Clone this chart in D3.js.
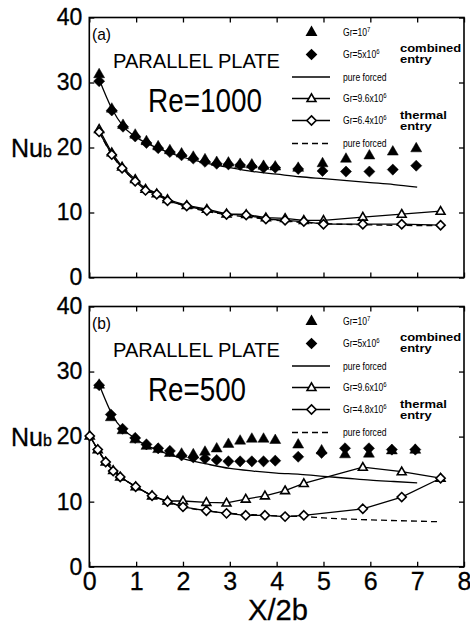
<!DOCTYPE html>
<html>
<head>
<meta charset="utf-8">
<script src="https://cdn.jsdelivr.net/npm/d3@7"></script>
<style>
  body { margin: 0; background: #fff; }
  svg text { font-family: "Liberation Sans", Arial, sans-serif; fill: #000; }
  .big { stroke: #000; stroke-width: 0.3px; }
</style>
</head>
<body>
<svg id="chart" width="470" height="628"></svg>
<script>
// panel (a) Re=1000, combined entry
const aX = [0.21,0.48,0.72,0.98,1.22,1.47,1.72,1.97,2.22,2.47,2.72,2.97,3.22,3.47,3.72,3.97,4.46,4.98,5.48,5.98,6.48,6.98];
const aGr1e7 = [31.3,26.0,23.5,22.0,21.0,20.2,19.6,19.1,18.6,18.2,17.8,17.7,17.5,17.4,17.2,17.1,16.9,17.6,18.3,18.8,19.4,19.9];
const aGr5e6 = [30.2,25.7,23.2,21.7,20.7,19.9,19.3,18.8,18.3,17.8,17.5,17.4,17.3,17.1,16.9,16.9,16.7,16.4,16.3,16.3,16.6,17.2];
const aForcedX = [0.21,0.48,0.72,1,1.5,2,2.5,3,3.5,4,4.5,5,5.5,6,6.5,7];
const aForced = [30.5,26.0,23.3,21.6,19.8,18.5,17.6,16.9,16.3,15.9,15.5,15.2,14.9,14.6,14.3,13.9];
// panel (a) thermal entry
const aTX = [0.21,0.48,0.70,0.98,1.20,1.44,1.67,2.08,2.51,2.93,3.35,3.77,4.18,4.58,5.0,5.84,6.67,7.50];
const aGr96 = [22.8,19.2,17.0,15.1,13.6,12.9,12.0,11.1,10.5,9.8,9.7,9.2,9.1,8.8,8.8,9.3,9.75,10.2];
const aGr64 = [22.4,18.9,16.8,14.8,13.4,12.8,11.8,11.0,10.3,9.7,9.6,9.0,8.8,8.6,8.2,8.2,8.2,8.05];
const aForcedTX = [0.21,0.48,0.7,1,1.5,2,2.5,3,3.5,4,4.5,5,6,7,7.5];
const aForcedT = [22.4,18.9,16.8,14.8,12.7,11.1,10.2,9.6,9.2,8.8,8.5,8.3,8.1,8.0,8.0];

// panel (b) Re=500, combined entry
const bX = [0.21,0.46,0.71,0.98,1.22,1.47,1.72,1.97,2.22,2.47,2.72,2.97,3.22,3.47,3.72,3.97,4.46,4.96,5.46,5.97,6.46,6.96];
const bGr1e7 = [28.0,23.0,21.0,19.6,18.6,18.1,17.5,17.4,17.3,17.7,18.2,18.9,19.4,19.7,19.7,19.5,18.8,17.9,17.3,17.4,17.9,18.0];
const bGr5e6 = [27.9,23.4,21.2,19.8,18.8,18.2,17.8,17.1,16.8,16.6,16.4,16.2,16.2,16.2,16.2,16.3,16.9,17.5,18.2,18.2,18.0,18.0];
const bForcedX = [0.21,0.5,1,1.5,2,2.5,3,3.5,4,4.5,5,5.5,6,6.5,7];
const bForced = [28.0,23.2,19.6,17.8,16.6,15.8,15.1,14.7,14.4,14.2,13.9,13.6,13.3,13.1,12.9];
// panel (b) thermal entry
const bTX = [0.01,0.18,0.35,0.51,0.66,0.99,1.34,1.67,2.0,2.5,2.93,3.34,3.75,4.18,4.58,5.84,6.67,7.5];
const bGr96 = [20.1,18.0,16.1,14.8,13.8,12.3,10.9,10.1,10.1,9.9,9.8,10.4,10.9,11.7,12.8,15.3,14.6,13.6];
const bGr48 = [20.1,18.0,16.1,14.7,13.8,12.3,10.9,10.0,9.2,8.6,8.2,7.9,7.9,7.7,7.9,8.9,10.7,13.6];
const bForcedTX = [0.01,0.18,0.35,0.51,0.66,1,1.34,1.67,2,2.5,3,3.5,4,4.6,5,6,7,7.5];
const bForcedT = [20.1,18.0,16.1,14.7,13.8,12.3,10.9,10.0,9.2,8.6,8.2,8.0,7.8,7.7,7.5,7.2,7.0,6.9];

const xTicks = [0,1,2,3,4,5,6,7,8];
const yTicks = [0,10,20,30,40];

const svg = d3.select("#chart");
const left = 89.3, right = 464;

const x = d3.scaleLinear().domain([0, 8]).range([left, right]);

const diamond = {
  draw(ctx, size) {
    const r = Math.sqrt(size / 2);
    ctx.moveTo(0, -r); ctx.lineTo(r, 0); ctx.lineTo(0, r); ctx.lineTo(-r, 0); ctx.closePath();
  }
};
const symFillTri = d3.symbol().type(d3.symbolTriangle).size(52);
const symFillDia = d3.symbol().type(diamond).size(62);
const symOpenTri = d3.symbol().type(d3.symbolTriangle).size(34);
const symOpenDia = d3.symbol().type(diamond).size(42);
const legTri = d3.symbol().type(d3.symbolTriangle).size(62);
const legDia = d3.symbol().type(diamond).size(68);

const zip = (xs, ys) => xs.map((v, i) => [v, ys[i]]);

function panel(cfg) {
  const y = d3.scaleLinear().domain([0, 40]).range([cfg.bottom, cfg.top]);
  const g = svg.append("g");
  const line = d3.line().x(d => x(d[0])).y(d => y(d[1]));
  const smooth = d3.line().x(d => x(d[0])).y(d => y(d[1])).curve(d3.curveMonotoneX);

  // axes: inward ticks on all sides
  const axL = g.append("g").attr("transform", `translate(${left},0)`)
    .call(d3.axisLeft(y).tickValues(yTicks).tickSizeInner(-5).tickSizeOuter(0).tickPadding(7));
  axL.selectAll("text").attr("class", "big").style("font-size", "23px");
  g.append("g").attr("transform", `translate(${right},0)`)
    .call(d3.axisRight(y).tickValues(yTicks).tickSizeInner(-5).tickSizeOuter(0).tickFormat(""));
  g.append("g").attr("transform", `translate(0,${cfg.top})`)
    .call(d3.axisTop(x).tickValues(xTicks).tickSizeInner(-5).tickSizeOuter(0).tickFormat(""));
  const axB = g.append("g").attr("transform", `translate(0,${cfg.bottom})`)
    .call(d3.axisBottom(x).tickValues(xTicks).tickSizeInner(-5).tickSizeOuter(0).tickPadding(6)
      .tickFormat(cfg.xLabels ? d3.format("d") : ""));
  axB.selectAll("text").attr("class", "big").style("font-size", "25px");
  g.selectAll(".domain").remove();
  g.selectAll(".tick line").attr("stroke", "#000").attr("stroke-width", 1.3);
  g.append("rect").attr("x", left).attr("y", cfg.top)
    .attr("width", right - left).attr("height", cfg.bottom - cfg.top)
    .attr("fill", "none").attr("stroke", "#000").attr("stroke-width", 1.6);

  // lines
  g.append("path").attr("d", smooth(zip(cfg.forcedX, cfg.forced)))
    .attr("fill", "none").attr("stroke", "#000").attr("stroke-width", 1.3);
  g.append("path").attr("d", smooth(zip(cfg.forcedTX, cfg.forcedT)))
    .attr("fill", "none").attr("stroke", "#000").attr("stroke-width", 1.3).attr("stroke-dasharray", "6,4");
  g.append("path").attr("d", line(zip(cfg.tX, cfg.gr96)))
    .attr("fill", "none").attr("stroke", "#000").attr("stroke-width", 1.3);
  g.append("path").attr("d", line(zip(cfg.tX, cfg.grT)))
    .attr("fill", "none").attr("stroke", "#000").attr("stroke-width", 1.3);

  // markers
  const mk = (data, sym, filled, dy) => g.append("g").selectAll("path").data(data).join("path")
    .attr("transform", d => `translate(${x(d[0])},${y(d[1]) + (dy || 0)})`)
    .attr("d", sym)
    .attr("fill", filled ? "#000" : "#fff")
    .attr("stroke", "#000").attr("stroke-width", filled ? 0.5 : 1.6);
  mk(zip(cfg.tX, cfg.gr96), symOpenTri, false, 0.5);
  mk(zip(cfg.tX, cfg.grT), symOpenDia, false);
  mk(zip(cfg.cX, cfg.gr1e7), symFillTri, true, 0.5);
  mk(zip(cfg.cX, cfg.gr5e6), symFillDia, true);

  // annotations
  const t = cfg.top;
  g.append("text").attr("x", 92).attr("y", t + 22).style("font-size", "17px")
    .attr("textLength", 19).attr("lengthAdjust", "spacingAndGlyphs").text(cfg.tag);
  g.append("text").attr("x", 113).attr("y", t + 50).style("font-size", "21px")
    .attr("textLength", 167).attr("lengthAdjust", "spacingAndGlyphs").text("PARALLEL PLATE");
  g.append("text").attr("x", 148).attr("y", t + 94).style("font-size", "34px")
    .attr("textLength", cfg.reW).attr("lengthAdjust", "spacingAndGlyphs").text(cfg.re);

  // legend
  const lx0 = 292, lx1 = 330, lxm = 311.5, tx = 343;
  const rows = [14.5, 37, 59.5, 81, 103, 126];
  const lg = g.append("g");
  lg.append("path").attr("transform", `translate(${lxm},${t + rows[0] + 0.5})`).attr("d", legTri()).attr("fill", "#000");
  lg.append("path").attr("transform", `translate(${lxm},${t + rows[1]})`).attr("d", legDia()).attr("fill", "#000");
  lg.append("line").attr("x1", lx0).attr("x2", lx1).attr("y1", t + rows[2]).attr("y2", t + rows[2]).attr("stroke", "#000").attr("stroke-width", 1.3);
  lg.append("line").attr("x1", lx0).attr("x2", lx1).attr("y1", t + rows[3]).attr("y2", t + rows[3]).attr("stroke", "#000").attr("stroke-width", 1.3);
  lg.append("path").attr("transform", `translate(${lxm},${t + rows[3] + 0.5})`).attr("d", symOpenTri()).attr("fill", "#fff").attr("stroke", "#000").attr("stroke-width", 1.6);
  lg.append("line").attr("x1", lx0).attr("x2", lx1).attr("y1", t + rows[4]).attr("y2", t + rows[4]).attr("stroke", "#000").attr("stroke-width", 1.3);
  lg.append("path").attr("transform", `translate(${lxm},${t + rows[4]})`).attr("d", symOpenDia()).attr("fill", "#fff").attr("stroke", "#000").attr("stroke-width", 1.6);
  lg.append("line").attr("x1", lx0).attr("x2", lx1).attr("y1", t + rows[5]).attr("y2", t + rows[5]).attr("stroke", "#000").attr("stroke-width", 1.3).attr("stroke-dasharray", "6,4");

  const labels = [
    ["Gr=10", "7"], ["Gr=5x10", "6"], ["pure forced", ""],
    ["Gr=9.6x10", "6"], [cfg.grTLabel, "6"], ["pure forced", ""]
  ];
  labels.forEach((l, i) => {
    const tt = lg.append("text").attr("x", tx).attr("y", t + rows[i] + 4).style("font-size", "10px");
    tt.append("tspan").text(l[0]);
    if (l[1]) tt.append("tspan").attr("dy", -4).style("font-size", "7px").text(l[1]);
    tt.attr("transform", `translate(${tx},0) scale(0.86,1) translate(${-tx},0)`);
  });
  [["combined", 34.5], ["entry", 46], ["thermal", 101.5], ["entry", 113]].forEach(d => {
    lg.append("text").attr("x", 400).attr("y", t + d[1]).style("font-size", "11px")
      .style("font-weight", "bold")
      .attr("transform", `translate(400,0) scale(1.18,1) translate(-400,0)`)
      .text(d[0]);
  });

  // y label Nu_b
  const nt = g.append("text").attr("class", "big").attr("x", 11).attr("y", y(20) + 9).style("font-size", "25px");
  nt.append("tspan").text("Nu");
  nt.append("tspan").style("font-size", "16px").text("b");
}

panel({
  top: 17.5, bottom: 277.5, xLabels: false, tag: "(a)", re: "Re=1000", reW: 114, grTLabel: "Gr=6.4x10",
  cX: aX, gr1e7: aGr1e7, gr5e6: aGr5e6, forcedX: aForcedX, forced: aForced,
  tX: aTX, gr96: aGr96, grT: aGr64, forcedTX: aForcedTX, forcedT: aForcedT
});
panel({
  top: 306.5, bottom: 566.7, xLabels: true, tag: "(b)", re: "Re=500", reW: 98, grTLabel: "Gr=4.8x10",
  cX: bX, gr1e7: bGr1e7, gr5e6: bGr5e6, forcedX: bForcedX, forced: bForced,
  tX: bTX, gr96: bGr96, grT: bGr48, forcedTX: bForcedTX, forcedT: bForcedT
});

svg.append("text").attr("class", "big").attr("x", 248).attr("y", 620).style("font-size", "30px")
  .attr("textLength", 60).attr("lengthAdjust", "spacingAndGlyphs").text("X/2b");
</script>
</body>
</html>
